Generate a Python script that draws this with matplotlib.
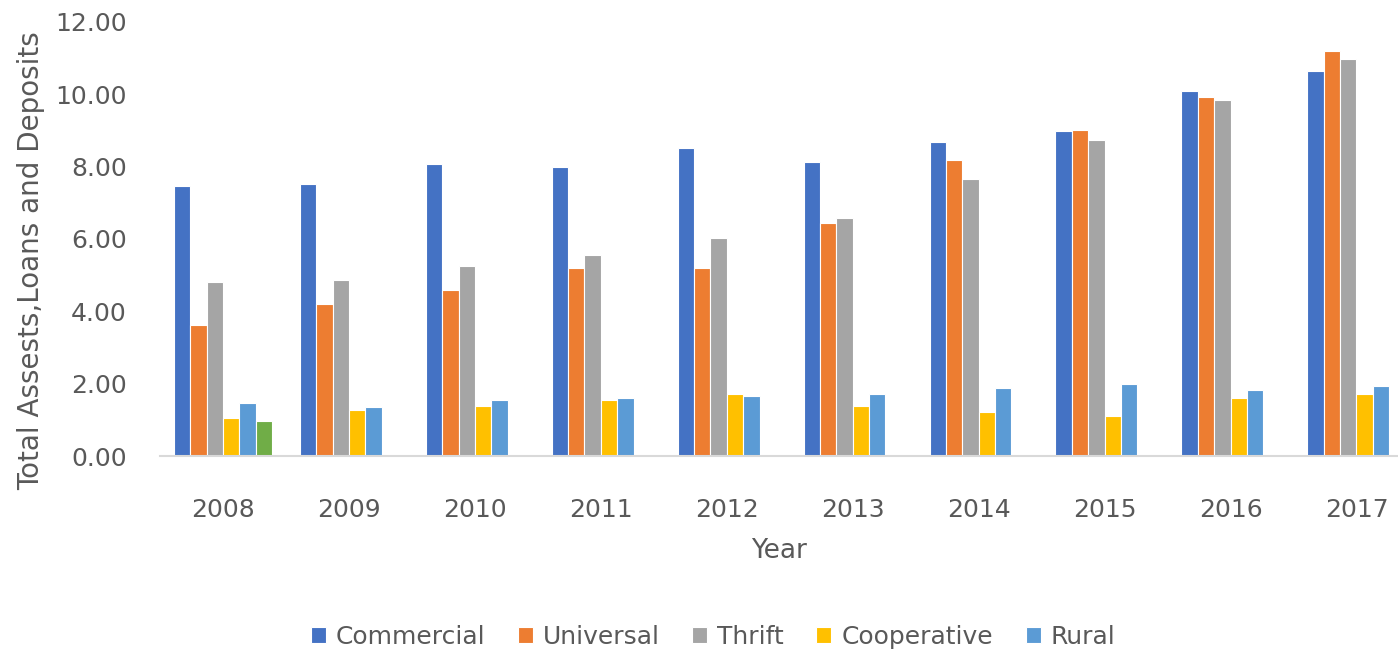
import numpy as np
import matplotlib
matplotlib.use('Agg')
import matplotlib.pyplot as plt

''' Data '''
years = ['2008', '2009', '2010', '2011', '2012', '2013', '2014', '2015', '2016', '2017']
commercial = [7.45, 7.52, 8.08, 8.00, 8.51, 8.12, 8.68, 8.97, 10.08, 10.64]
universal = [3.63, 4.20, 4.59, 5.20, 5.19, 6.44, 8.17, 9.02, 9.92, 11.20]
thrift = [4.80, 4.86, 5.26, 5.57, 6.03, 6.59, 7.67, 8.73, 9.84, 10.97]
cooperative = [1.04, 1.27, 1.38, 1.54, 1.71, 1.38, 1.21, 1.10, 1.61, 1.72]
rural = [1.48, 1.37, 1.55, 1.60, 1.65, 1.72, 1.88, 1.99, 1.82, 1.93]
other = [0.96, np.nan, np.nan, np.nan, np.nan, np.nan, np.nan, np.nan, np.nan, np.nan]

series_names = ['Commercial', 'Universal', 'Thrift', 'Cooperative', 'Rural', None]
series_vals = [commercial, universal, thrift, cooperative, rural, other]
colors = ['#4472C4', '#ED7D31', '#A5A5A5', '#FFC000', '#5B9BD5', '#70AD47']

''' Plot '''
txt = '#595959'
fig = plt.figure(figsize=(13.98, 6.61), dpi=100)
ax = fig.add_axes([0.1145, 0.31, 0.8855, 0.657])

x = np.arange(len(years))
w = 0.13
for i, (name, vals, c) in enumerate(zip(series_names, series_vals, colors)):
    lbl = name if name else '_nolegend_'
    ax.bar(x + (i - 2.5) * w, vals, width=w, color=c, edgecolor='white',
           linewidth=0.8, label=lbl)

ax.set_ylim(0, 12)
ax.set_xlim(-0.5, 9.33)
ax.set_yticks(np.arange(0, 12.1, 2))
ax.set_yticklabels(['%.2f' % v for v in np.arange(0, 12.1, 2)])
ax.set_xticks(x)
ax.set_xticklabels(years)

for s in ['top', 'right', 'left']:
    ax.spines[s].set_visible(False)
ax.spines['bottom'].set_color('#d9d9d9')
ax.spines['bottom'].set_linewidth(1.5)

ax.tick_params(axis='y', length=0, pad=24, labelsize=18, labelcolor=txt)
ax.tick_params(axis='x', length=0, pad=30, labelsize=18, labelcolor=txt)

ax.set_xlabel('Year', fontsize=19, color=txt, labelpad=12)
ax.set_ylabel('Total Assests,Loans and Deposits', fontsize=20, color=txt)
ax.yaxis.set_label_coords(-0.093, 0.45)

fig.legend(loc='center', bbox_to_anchor=(0.51, 0.036), ncol=5, frameon=False,
           fontsize=18, handlelength=0.6, handleheight=0.6, handletextpad=0.4,
           columnspacing=1.3, labelcolor=txt)

fig.savefig('out.png', dpi=100, facecolor='white')
